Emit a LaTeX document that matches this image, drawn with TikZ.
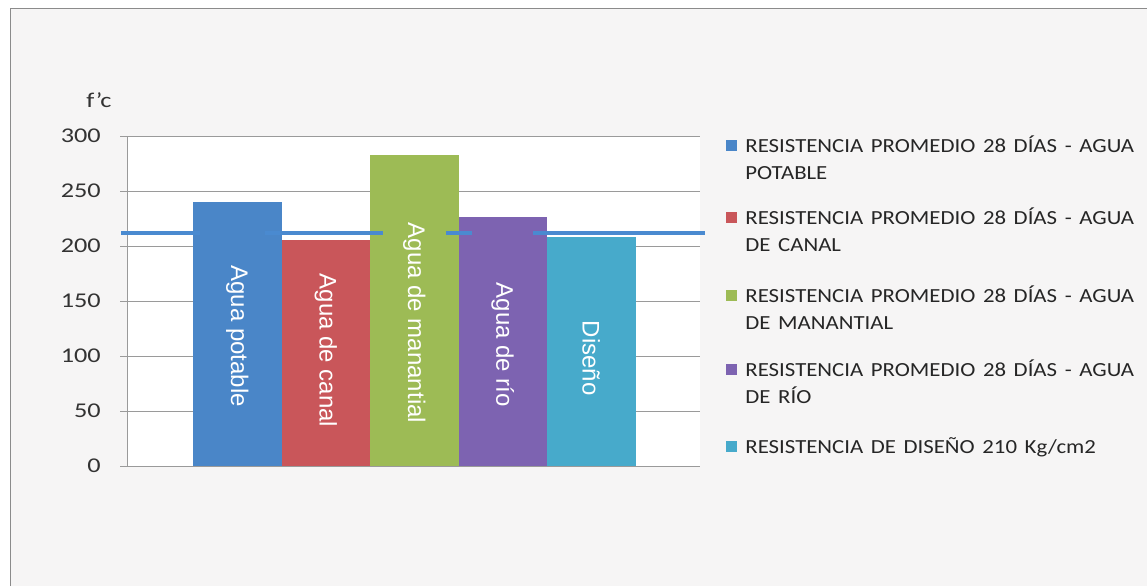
\documentclass[tikz,border=0pt]{standalone}
\usepackage{fontspec}
\setmainfont{Carlito}
\newfontfamily\arialfont{Liberation Sans}
\usepackage{xcolor}
\usepackage{tikz}
\definecolor{potable}{HTML}{4A86C8}
\definecolor{canal}{HTML}{C9565A}
\definecolor{manantial}{HTML}{9DBB55}
\definecolor{rio}{HTML}{7D63B1}
\definecolor{diseno}{HTML}{47AACB}
\definecolor{limite}{HTML}{4A8AD0}
\definecolor{fondo}{HTML}{F6F5F5}
\definecolor{rejilla}{HTML}{9A9A9A}
\tikzset{
  barlabel/.style={text=white, rotate=-90, inner sep=0pt,
    font=\arialfont\fontsize{24}{24}\selectfont},
  axlabel/.style={anchor=east, inner sep=0pt, text=black!80,
    xscale=1.25, transform shape, font=\fontsize{21}{21}\selectfont},
  legsq/.style={fill=#1, minimum size=11pt, inner sep=0pt},
  legtext/.style={anchor=base west, inner sep=0pt, text width=420pt,
    align=left, text=black!85, xscale=1.14, transform shape,
    font=\fontsize{20}{27}\selectfont}
}
% bar: name, left x, value, colour, label centre, label
\newcommand{\barra}[6]{%
  \fill[#4] (#2,0) rectangle ++(88.5,#3);
  \node[barlabel] (#1) at (#2+44.25,#5) {#6};}
% legend entry: name, colour, centre y, text
\newcommand{\leyenda}[4]{%
  \node[legsq=#2] (sq#1) at (731.5,#3) {};
  \node[legtext] (#1) at ([xshift=8pt, yshift=-6.5pt]sq#1.east) {#4};}

\begin{document}
\begin{tikzpicture}[x=1pt, y=1pt]
\useasboundingbox (0,0) rectangle (1147,586);
\fill[white] (0,0) rectangle (1147,586);
\fill[fondo] (10,0) rectangle (1147,577);
\draw[rejilla!90!black, line width=1pt] (10,0) -- (10,577) -- (1147,577);

\node[axlabel, anchor=center] (fc) at (99,486) {f’c};

\begin{scope}[shift={(0,120)}, y=1.1pt]
  \fill[white] (127,0) rectangle (700,300);
  \foreach \v in {0,50,...,300} {
    \draw[rejilla, line width=0.8pt] (120,\v) -- (700,\v);
    \node[axlabel] (ax\v) at (101,\v) {\v};
  }
  \draw[rejilla, line width=0.8pt] (127,0) -- (127,300);

  \barra{potable}{193}{240}{potable}{118}{Agua potable}
  \barra{canal}{281.5}{205}{canal}{105}{Agua de canal}
  \barra{manantial}{370}{283}{manantial}{130}{Agua de manantial}
  \barra{rio}{458.5}{226}{rio}{110}{Agua de río}
  \barra{diseno}{547}{208}{diseno}{98}{Diseño}

  % design strength line
  \foreach \a/\b in {121/200, 265/383, 446/472, 533/705}
    \draw[limite, line width=4.5pt] (\a,212) -- (\b,212);
\end{scope}

\leyenda{leg1}{potable}{440}{RESISTENCIA PROMEDIO 28 DÍAS - AGUA\\POTABLE}
\leyenda{leg2}{canal}{368}{RESISTENCIA PROMEDIO 28 DÍAS - AGUA\\DE CANAL}
\leyenda{leg3}{manantial}{290}{RESISTENCIA PROMEDIO 28 DÍAS - AGUA\\DE MANANTIAL}
\leyenda{leg4}{rio}{216}{RESISTENCIA PROMEDIO 28 DÍAS - AGUA\\DE RÍO}
\leyenda{leg5}{diseno}{139}{RESISTENCIA DE DISEÑO 210 Kg/cm2}

\end{tikzpicture}
\end{document}
